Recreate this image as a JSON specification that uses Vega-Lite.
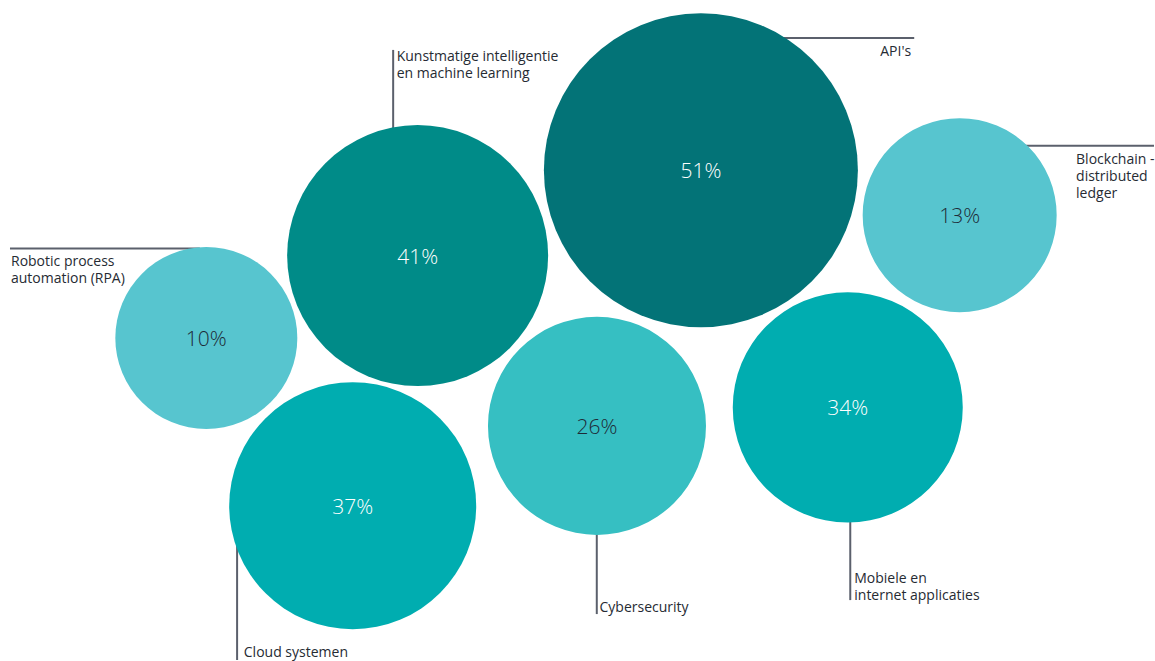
{
  "$schema": "https://vega.github.io/schema/vega-lite/v6.json",
  "width": 1155,
  "height": 661,
  "autosize": {"type": "fit", "contains": "padding"},
  "padding": 0,
  "background": "#ffffff",
  "config": {"view": {"stroke": null}},
  "datasets": {
    "bubbles": [
      {"name": "API's", "value": 51, "pct": "51%", "cx": 701.5, "cy": 170.5},
      {"name": "Kunstmatige intelligentie en machine learning", "value": 41, "pct": "41%", "cx": 418, "cy": 256},
      {"name": "Robotic process automation (RPA)", "value": 10, "pct": "10%", "cx": 206.5, "cy": 338.5},
      {"name": "Blockchain - distributed ledger", "value": 13, "pct": "13%", "cx": 960.5, "cy": 215.5},
      {"name": "Cybersecurity", "value": 26, "pct": "26%", "cx": 597.5, "cy": 426.5},
      {"name": "Mobiele en internet applicaties", "value": 34, "pct": "34%", "cx": 848.5, "cy": 408},
      {"name": "Cloud systemen", "value": 37, "pct": "37%", "cx": 353, "cy": 506.5}
    ],
    "leaders": [
      {"name": "API's", "x": 770, "y": 38, "x2": 915, "y2": 38},
      {"name": "Blockchain", "x": 1020, "y": 146, "x2": 1155, "y2": 146},
      {"name": "Kunstmatige", "x": 393.5, "y": 50, "x2": 393.5, "y2": 140},
      {"name": "RPA", "x": 10, "y": 249, "x2": 200, "y2": 249},
      {"name": "Cloud", "x": 237.3, "y": 540, "x2": 237.3, "y2": 661},
      {"name": "Cyber", "x": 597.3, "y": 520, "x2": 597.3, "y2": 615},
      {"name": "Mobiele", "x": 851, "y": 505, "x2": 851, "y2": 601}
    ],
    "labels": [
      {"text": "Kunstmatige intelligentie\nen machine learning", "x": 397, "y": 61.5},
      {"text": "API's", "x": 881, "y": 56},
      {"text": "Blockchain -\ndistributed\nledger", "x": 1077, "y": 164.3},
      {"text": "Robotic process\nautomation (RPA)", "x": 11, "y": 266.7},
      {"text": "Cloud systemen", "x": 244, "y": 658.3},
      {"text": "Cybersecurity", "x": 600, "y": 612.7},
      {"text": "Mobiele en\ninternet applicaties", "x": 855, "y": 583.5}
    ]
  },
  "layer": [
    {
      "data": {"name": "leaders"},
      "mark": {"type": "rule", "color": "#5b606c", "strokeWidth": 2},
      "encoding": {
        "x": {"field": "x", "type": "quantitative", "scale": {"domain": [0, 1155], "nice": false, "zero": false}, "axis": null},
        "y": {"field": "y", "type": "quantitative", "scale": {"domain": [661, 0], "nice": false, "zero": false}, "axis": null},
        "x2": {"field": "x2"},
        "y2": {"field": "y2"}
      }
    },
    {
      "data": {"name": "bubbles"},
      "mark": {"type": "circle", "opacity": 1},
      "encoding": {
        "x": {"field": "cx", "type": "quantitative", "axis": null},
        "y": {"field": "cy", "type": "quantitative", "axis": null},
        "size": {"field": "value", "type": "quantitative", "legend": null,
          "scale": {"type": "linear", "domain": [10, 13, 26, 34, 37, 41, 51], "range": [33124, 37636, 47524, 52900, 61009, 68121, 98596]}},
        "color": {"field": "value", "type": "nominal", "legend": null,
          "scale": {"domain": [10, 13, 26, 34, 37, 41, 51], "range": ["#57c5cf", "#57c5cf", "#36bfc2", "#00adb0", "#00adb0", "#008b88", "#037377"]}}
      }
    },
    {
      "data": {"name": "bubbles"},
      "mark": {"type": "text", "font": "Open Sans", "fontSize": 21, "fontWeight": 300, "align": "center", "baseline": "middle", "dy": 2},
      "encoding": {
        "x": {"field": "cx", "type": "quantitative"},
        "y": {"field": "cy", "type": "quantitative"},
        "text": {"field": "pct"},
        "color": {"condition": {"test": "datum.value >= 34", "value": "#ffffff"}, "value": "#1e2b37"}
      }
    },
    {
      "data": {"name": "labels"},
      "mark": {"type": "text", "font": "Open Sans", "fontSize": 14, "align": "left", "baseline": "alphabetic", "lineBreak": "\n", "lineHeight": 17, "color": "#262b33"},
      "encoding": {
        "x": {"field": "x", "type": "quantitative"},
        "y": {"field": "y", "type": "quantitative"},
        "text": {"field": "text"}
      }
    }
  ]
}
